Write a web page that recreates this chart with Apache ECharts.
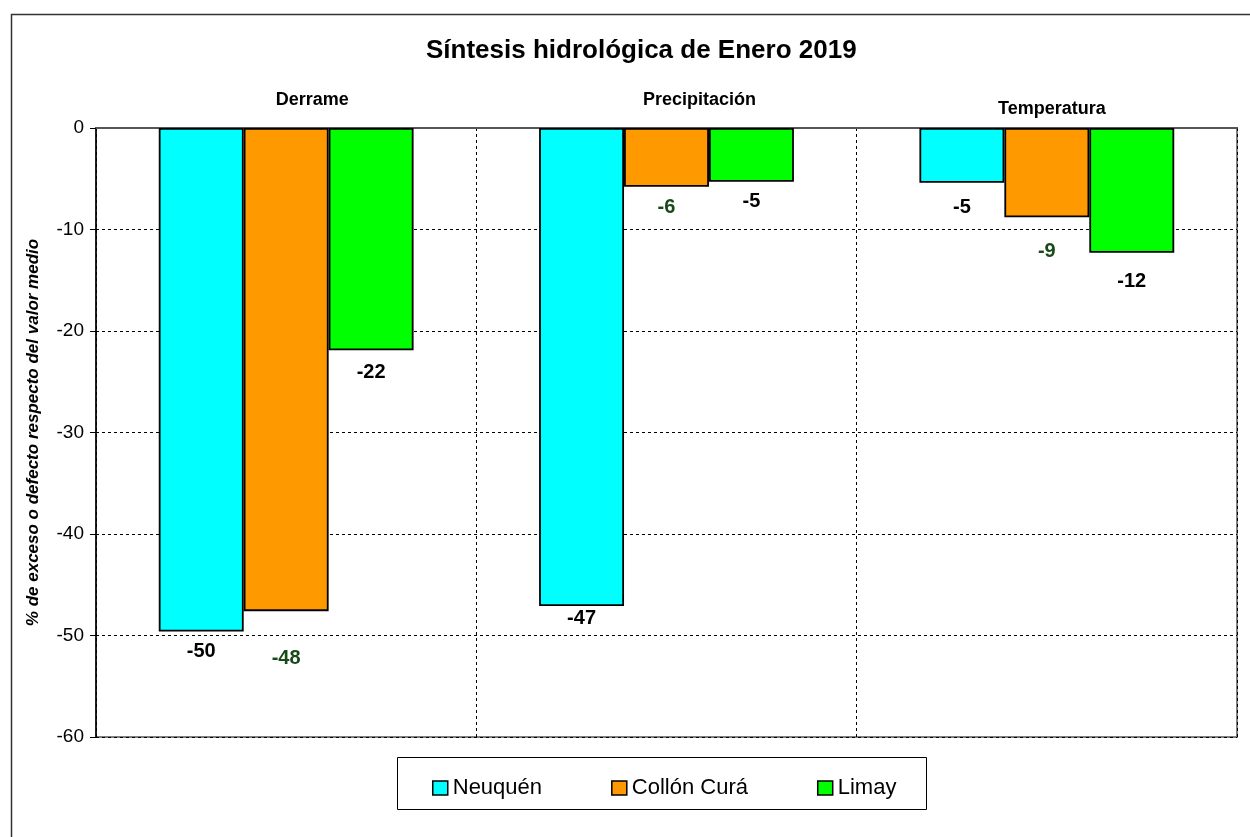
<!DOCTYPE html>
<html>
<head>
<meta charset="utf-8">
<script src="https://cdn.jsdelivr.net/npm/echarts@6/dist/echarts.min.js"></script>
<style>
html,body{margin:0;padding:0;background:#fff;}
#c{width:1250px;height:837px;}
</style>
</head>
<body>
<div id="c"></div>
<script>
const categories = ['Derrame', 'Precipitación', 'Temperatura'];
const seriesNames = ['Neuquén', 'Collón Curá', 'Limay'];
const neuquen = [-49.6, -47.1, -5.4];
const collonCura = [-47.6, -5.8, -8.8];
const limay = [-21.9, -5.3, -12.3];
const yTicks = [0, -10, -20, -30, -40, -50, -60];

// label distance below bar end (style only)
const labelGap = [[10, 2, 15], [37, 11, 24], [12, 10, 19]];
// category label styling (style only)
const catPadLeft = [52, 66, 10];
const catVAlign = ['bottom', 'bottom', 'middle'];
const colors = ['#00FFFF', '#FF9900', '#00FF00'];
const labelColors = ['#000000', '#184A18', '#000000'];
const allData = [neuquen, collonCura, limay];
const FONT = 'Liberation Sans, Arial, sans-serif';

const chart = echarts.init(document.getElementById('c'), null, {renderer: 'canvas'});

const series = allData.map((vals, si) => ({
  name: seriesNames[si],
  type: 'bar',
  barGap: '0%',
  barCategoryGap: '33%',
  itemStyle: {color: colors[si], borderColor: '#000', borderWidth: 1.8},
  data: vals.map((v, ci) => ({
    value: v,
    label: {distance: labelGap[si][ci]}
  })),
  label: {
    show: true,
    position: 'bottom',
    formatter: p => Math.round(p.value).toString(),
    fontFamily: FONT,
    fontWeight: 'bold',
    fontSize: 20,
    color: labelColors[si]
  }
}));

chart.setOption({
  animation: false,
  backgroundColor: '#fff',
  textStyle: {fontFamily: FONT},
  title: {
    text: 'Síntesis hidrológica de Enero 2019',
    left: 421,
    top: 33,
    textStyle: {fontSize: 26, fontWeight: 'bold', color: '#000', fontFamily: FONT}
  },
  grid: {
    left: 96, top: 128, right: 13, bottom: 100,
    show: true, borderColor: '#808080', borderWidth: 2, backgroundColor: 'transparent'
  },
  legend: {
    left: 427,
    top: 772,
    itemGap: 69,
    itemWidth: 15,
    itemHeight: 14,
    icon: 'rect',
    itemStyle: {borderColor: '#000', borderWidth: 1.5},
    textStyle: {fontSize: 22, color: '#000', fontFamily: FONT},
    data: seriesNames
  },
  xAxis: {
    type: 'category',
    position: 'top',
    data: categories.map((c, i) => ({
      value: c,
      textStyle: {padding: [0, 0, 0, catPadLeft[i]], verticalAlign: catVAlign[i]}
    })),
    axisLine: {show: true, onZero: false, lineStyle: {color: '#555', width: 2}},
    axisTick: {show: false},
    splitLine: {show: true, interval: 0, lineStyle: {color: '#000', type: [3, 3], width: 1}},
    axisLabel: {
      margin: 19,
      fontSize: 18,
      fontWeight: 'bold',
      color: '#000',
      fontFamily: FONT
    }
  },
  yAxis: {
    type: 'value',
    min: -60,
    max: 0,
    interval: 10,
    name: '% de exceso o defecto respecto del valor medio',
    nameLocation: 'middle',
    nameGap: 54,
    nameRotate: 90,
    nameTextStyle: {fontSize: 17, fontStyle: 'italic', fontWeight: 'bold', color: '#000', fontFamily: FONT},
    axisLine: {show: true, lineStyle: {color: '#000', width: 1.5}},
    axisTick: {show: true, length: 6, lineStyle: {color: '#000'}},
    splitLine: {show: true, lineStyle: {color: '#000', type: [3, 3], width: 1}},
    axisLabel: {
      fontSize: 19, color: '#000', margin: 12,
      fontFamily: FONT,
      formatter: v => yTicks.includes(v) ? String(v) : ''
    }
  },
  graphic: [
    {type: 'rect', left: 9, top: 12, shape: {width: 1300, height: 900}, style: {fill: 'none', stroke: '#333', lineWidth: 1.5}, z: -1, silent: true},
    {type: 'rect', left: 397, top: 757, shape: {width: 529, height: 52}, style: {fill: '#fff', stroke: '#000', lineWidth: 1}, z: -1, silent: true}
  ],
  series: series
});
</script>
</body>
</html>
